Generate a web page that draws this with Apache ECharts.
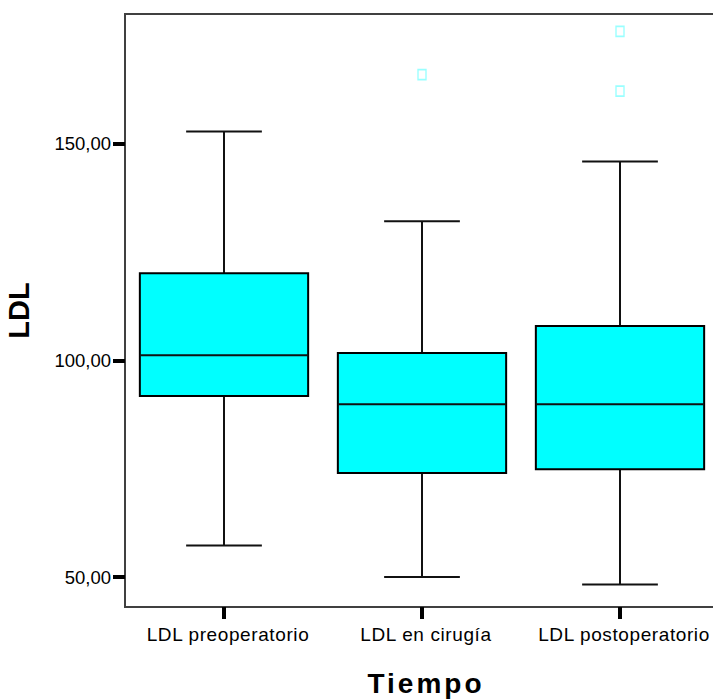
<!DOCTYPE html>
<html>
<head>
<meta charset="utf-8">
<script src="https://cdn.jsdelivr.net/npm/echarts@6/dist/echarts.min.js"></script>
<style>
  html, body { margin: 0; padding: 0; background: #fff; }
  #chart { width: 713px; height: 700px; }
</style>
</head>
<body>
<div id="chart"></div>
<script>
// LDL por momento quirúrgico: resumen de caja y bigotes
const categories = ['LDL preoperatorio', 'LDL en cirugía', 'LDL postoperatorio'];
const whiskerLow = [57.3, 50.0, 48.3];
const quartile1 = [91.8, 74.0, 74.9];
const medians = [101.2, 89.9, 89.9];
const quartile3 = [120.1, 101.7, 107.9];
const whiskerHigh = [152.8, 132.1, 145.9];
// valores atípicos: [índice de categoría, valor]
const outliers = [[1, 165.9], [2, 175.9], [2, 162.1]];
const yTicks = [50, 100, 150];

const xTitle = 'Tiempo';
const yTitle = 'LDL';
const labelFont = 'Liberation Sans, Arial, sans-serif';

const boxRows = categories.map((c, i) => [i, whiskerLow[i], quartile1[i], medians[i], quartile3[i], whiskerHigh[i]]);

function renderBox(params, api) {
  const idx = api.value(0);
  const pLow = api.coord([idx, api.value(1)]);
  const pQ1 = api.coord([idx, api.value(2)]);
  const pMed = api.coord([idx, api.value(3)]);
  const pQ3 = api.coord([idx, api.value(4)]);
  const pHigh = api.coord([idx, api.value(5)]);
  const band = api.size([1, 0])[0];
  const boxW = band * 0.85;
  const capW = boxW * 0.45;
  const cx = pMed[0];
  const lineStyle = { stroke: '#111', lineWidth: 2, fill: null };
  return {
    type: 'group',
    children: [
      { type: 'line', shape: { x1: cx, y1: pHigh[1], x2: cx, y2: pQ3[1] }, style: lineStyle },
      { type: 'line', shape: { x1: cx, y1: pQ1[1], x2: cx, y2: pLow[1] }, style: lineStyle },
      { type: 'line', shape: { x1: cx - capW / 2, y1: pHigh[1], x2: cx + capW / 2, y2: pHigh[1] }, style: lineStyle },
      { type: 'line', shape: { x1: cx - capW / 2, y1: pLow[1], x2: cx + capW / 2, y2: pLow[1] }, style: lineStyle },
      { type: 'rect', shape: { x: cx - boxW / 2, y: pQ3[1], width: boxW, height: pQ1[1] - pQ3[1] },
        style: { fill: '#00ffff', stroke: '#000', lineWidth: 2 } },
      { type: 'line', shape: { x1: cx - boxW / 2, y1: pMed[1], x2: cx + boxW / 2, y2: pMed[1] }, style: lineStyle }
    ]
  };
}

const chart = echarts.init(document.getElementById('chart'), null, { renderer: 'svg' });

// the SVG text nodes take a little tracking, wider on the axis title
function applyTracking() {
  document.querySelectorAll('#chart text').forEach(t => {
    const s = t.textContent;
    if (s === xTitle) t.style.letterSpacing = '3px';
    else if (categories.includes(s)) t.style.letterSpacing = '0.6px';
  });
}
chart.on('finished', applyTracking);

chart.setOption({
  animation: false,
  backgroundColor: '#fff',
  grid: {
    left: 125, top: 14, width: 594, height: 593,
    outerBoundsMode: 'none',
    containLabel: false,
    show: true, borderColor: '#404040', borderWidth: 2, backgroundColor: 'transparent'
  },
  xAxis: {
    type: 'category',
    data: categories,
    name: xTitle,
    nameLocation: 'middle',
    nameGap: 62,
    nameTextStyle: { fontFamily: labelFont, fontWeight: 'bold', fontSize: 28, color: '#000', padding: [0, 0, 0, 8] },
    axisLine: { show: false },
    axisTick: { show: true, alignWithLabel: true, length: 12, lineStyle: { color: '#000', width: 4 } },
    axisLabel: {
      margin: 18, interval: 0, hideOverlap: false, fontFamily: labelFont, fontSize: 19, color: '#000',
      padding: [0, 0, 0, 8]
    },
    splitLine: { show: false }
  },
  yAxis: {
    type: 'value',
    min: 43.1,
    max: 179.9,
    name: yTitle,
    nameLocation: 'middle',
    nameGap: 92,
    nameTextStyle: { fontFamily: labelFont, fontWeight: 'bold', fontSize: 29, color: '#000' },
    axisLine: { show: false },
    axisTick: { show: true, length: 12, customValues: yTicks, lineStyle: { color: '#000', width: 4 } },
    axisLabel: {
      margin: 14, fontFamily: labelFont, fontSize: 18.5, color: '#000',
      customValues: yTicks,
      formatter: v => v.toFixed(2).replace('.', ',')
    },
    splitLine: { show: false }
  },
  series: [
    {
      type: 'custom',
      renderItem: renderBox,
      encode: { x: 0, y: [1, 2, 3, 4, 5] },
      data: boxRows,
      z: 2
    },
    {
      type: 'scatter',
      data: outliers,
      symbol: 'rect',
      symbolSize: [8, 10],
      itemStyle: { color: '#fff', borderColor: '#80ffff', borderWidth: 1.5 },
      z: 3
    }
  ]
});
applyTracking();
</script>
</body>
</html>
